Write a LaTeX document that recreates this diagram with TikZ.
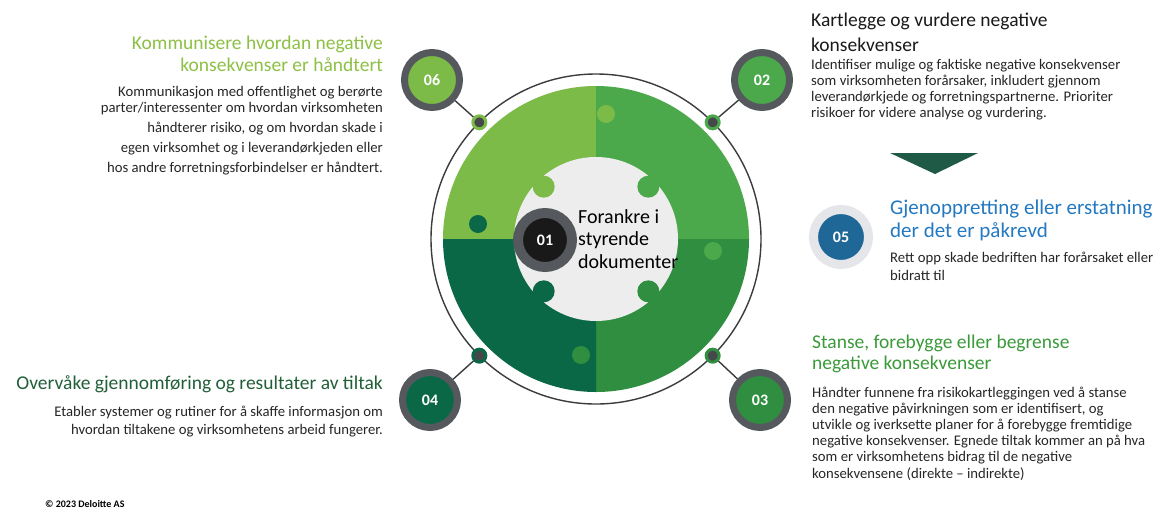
\documentclass[tikz,border=0pt]{standalone}
\usepackage{fontspec}
\setmainfont{Carlito}
\usetikzlibrary{positioning,calc}

\definecolor{qA}{HTML}{7CBB48}
\definecolor{qB}{HTML}{4BA94C}
\definecolor{qC}{HTML}{2F8E3F}
\definecolor{qD}{HTML}{0A6847}
\definecolor{ringgray}{HTML}{55595D}
\definecolor{dotgray}{HTML}{45484B}
\definecolor{linegray}{HTML}{3A3C3E}
\definecolor{centerwhite}{HTML}{EDEDED}
\definecolor{blue05}{HTML}{1F6797}
\definecolor{ring05}{HTML}{E4E6EA}
\definecolor{arrowgreen}{HTML}{1E5A45}
\definecolor{bodytext}{HTML}{262626}
\definecolor{head06}{HTML}{8DC044}
\definecolor{head05}{HTML}{2479C0}
\definecolor{head03}{HTML}{3A9A3A}
\definecolor{head04}{HTML}{215F38}

\begin{document}
\begin{tikzpicture}[
    x=1pt,y=-1pt,
    badge/.style={circle,draw=ringgray,line width=7pt,minimum size=55pt,inner sep=0pt,text=white,font=\bfseries\fontsize{16}{16}\selectfont},
    dot/.style={circle,fill=dotgray,line width=3pt,minimum size=13pt,inner sep=0pt},
    link/.style={draw=linegray,line width=1.4pt},
    head/.style={inner sep=0pt,font=\fontsize{19.5}{22}\selectfont},
    body/.style={inner sep=0pt,text=bodytext}
]
\useasboundingbox[fill=white] (0,0) rectangle (1158,509);

% Ring and puzzle quadrants
\coordinate (c) at (596,239);
\draw[linegray,line width=1.4pt] (c) circle[radius=165];
\fill[qA] (c) -- ++(180:153) arc[start angle=180,end angle=270,radius=153] -- cycle;
\fill[qB] (c) -- ++(270:153) arc[start angle=270,end angle=360,radius=153] -- cycle;
\fill[qC] (c) -- ++(0:153) arc[start angle=0,end angle=90,radius=153] -- cycle;
\fill[qD] (c) -- ++(90:153) arc[start angle=90,end angle=180,radius=153] -- cycle;
\fill[qA] (606,114) circle[radius=9];
\fill[qD] (478,224) circle[radius=9];
\fill[qB] (713,251) circle[radius=9];
\fill[qC] (581,355) circle[radius=9];

% Centre piece
\fill[centerwhite] (c) circle[radius=82];
\fill[qA] (c) ++(225:74) circle[radius=11];
\fill[qB] (c) ++(315:74) circle[radius=11];
\fill[qC] (c) ++(45:74) circle[radius=11];
\fill[qD] (c) ++(135:74) circle[radius=11];

% Dots on the ring
\node[dot,draw=qA] (dot06) at ($(c)+(225:165)$) {};
\node[dot,draw=qB] (dot02) at ($(c)+(315:165)$) {};
\node[dot,draw=qC] (dot03) at ($(c)+(45:165)$) {};
\node[dot,draw=qD] (dot04) at ($(c)+(135:165)$) {};

% Numbered badges
\node[badge,fill=qA] (b06) at (432,80) {06};
\node[badge,fill=qB] (b02) at (762,80) {02};
\node[badge,fill=qC] (b03) at (760,400) {03};
\node[badge,fill=qD] (b04) at (430,400) {04};
\node[badge,fill=black!90,line width=10pt,minimum size=54pt] (b01) at (545,240) {01};
\node[badge,fill=blue05,draw=ring05,line width=9pt] (b05) at (841,237) {05};

% Connectors
\draw[link] (dot06) -- (b06);
\draw[link] (dot02) -- (b02);
\draw[link] (dot03) -- (b03);
\draw[link] (dot04) -- (b04);

% Arrow between 02 and 05
\fill[arrowgreen] (890,153) -- (978,153) -- (935,174) -- cycle;

% Texts (anchored at the baseline of the last line)
\node[anchor=base west,align=left,inner sep=0pt,text=black,font=\fontsize{20}{22.5}\selectfont] (t01) at (578,268) {Forankre i\\styrende\\dokumenter};

\node[head,text=head06,anchor=base east,align=right] (h06) at (383,71) {Kommunisere hvordan negative\\konsekvenser er håndtert};
\node[body,anchor=base east,align=right,font=\fontsize{14.7}{20}\selectfont] (p06) at (383,172) {Kommunikasjon med offentlighet og berørte\\[-4pt]parter/interessenter om hvordan virksomheten\\håndterer risiko, og om hvordan skade i\\egen virksomhet og i leverandørkjeden eller\\hos andre forretningsforbindelser er håndtert.};

\node[head,text=black!90,anchor=base west,align=left,font=\fontsize{19.5}{25}\selectfont] (h02) at (811,51) {Kartlegge og vurdere negative\\konsekvenser};
\node[body,anchor=base west,align=left,font=\fontsize{14.7}{16}\selectfont] (p02) at (811,117) {Identifiser mulige og faktiske negative konsekvenser\\som virksomheten forårsaker, inkludert gjennom\\leverandørkjede og forretningspartnerne. Prioriter\\risikoer for videre analyse og vurdering.};

\node[head,text=head05,anchor=base west,align=left,font=\fontsize{21}{23}\selectfont] (h05) at (890,237) {Gjenoppretting eller erstatning\\der det er påkrevd};
\node[body,anchor=base west,align=left,font=\fontsize{14.7}{18}\selectfont] (p05) at (890,280) {Rett opp skade bedriften har forårsaket eller\\bidratt til};

\node[head,text=head03,anchor=base west,align=left,font=\fontsize{19.5}{21}\selectfont] (h03) at (812,369) {Stanse, forebygge eller begrense\\negative konsekvenser};
\node[body,anchor=base west,align=left,font=\fontsize{14.7}{16.2}\selectfont] (p03) at (812,478) {Håndter funnene fra risikokartleggingen ved å stanse\\den negative påvirkningen som er identifisert, og\\utvikle og iverksette planer for å forebygge fremtidige\\negative konsekvenser. Egnede tiltak kommer an på hva\\som er virksomhetens bidrag til de negative\\konsekvensene (direkte – indirekte)};

\node[head,text=head04,anchor=base east] (h04) at (383,389) {Overvåke gjennomføring og resultater av tiltak};
\node[body,anchor=base east,align=right,font=\fontsize{14.7}{18}\selectfont] (p04) at (383,434) {Etabler systemer og rutiner for å skaffe informasjon om\\hvordan tiltakene og virksomhetens arbeid fungerer.};

\node[anchor=base west,inner sep=0pt,font=\bfseries\fontsize{10}{12}\selectfont] (copy) at (45,507) {© 2023 Deloitte AS};

\end{tikzpicture}
\end{document}
